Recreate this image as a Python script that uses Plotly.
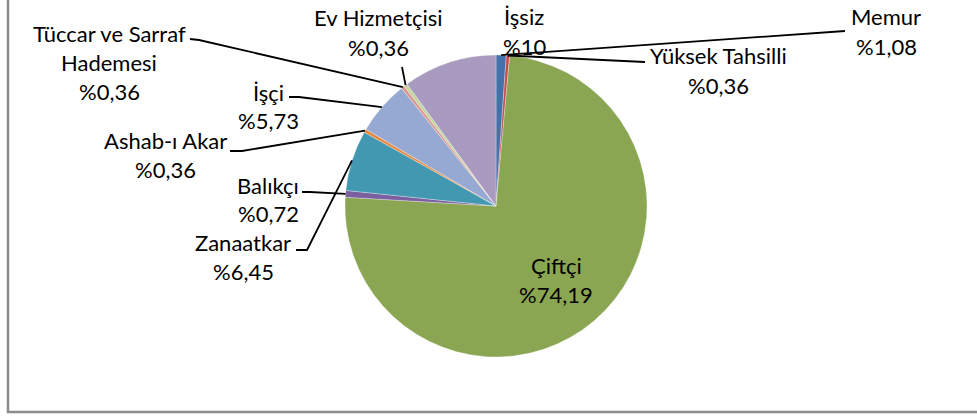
import math

import plotly.graph_objects as go

# data
labels = ["Memur", "Yüksek Tahsilli", "Çiftçi", "Balıkçı", "Zanaatkar",
          "Ashab-ı Akar", "İşçi", "Tüccar ve Sarraf Hademesi", "Ev Hizmetçisi", "İşsiz"]
values = [1.08, 0.36, 74.19, 0.72, 6.45, 0.36, 5.73, 0.36, 0.36, 10]
pct_text = ["%1,08", "%0,36", "%74,19", "%0,72", "%6,45", "%0,36", "%5,73", "%0,36", "%0,36", "%10"]
colors = ["#4472a8", "#c0504d", "#8ba653", "#7b5f9e", "#4298b0",
          "#e8883e", "#95a9d3", "#d99a97", "#c3d69b", "#a99bc0"]

W, H = 977, 416
PIE_CX, PIE_CY, PIE_R = 496, 206, 151
FONT = "Lato, 'Noto Sans', sans-serif"
FONT_SIZE = 22
LINE_GAP = 29

# label layout in pixels: name lines, centre x, first line y, leader points
label_layout = {
    "Memur": dict(lines=["Memur"], x=886, y=17, leader=[(845, 31)]),
    "Yüksek Tahsilli": dict(lines=["Yüksek Tahsilli"], x=718, y=56, leader=[(645, 62)]),
    "Çiftçi": dict(lines=["Çiftçi"], x=556, y=265, leader=None),
    "Balıkçı": dict(lines=["Balıkçı"], x=268, y=185, leader=[(302, 192), (310, 192)]),
    "Zanaatkar": dict(lines=["Zanaatkar"], x=243, y=242, leader=[(296, 250), (307, 250)]),
    "Ashab-ı Akar": dict(lines=["Ashab-ı Akar"], x=165, y=140, leader=[(230, 151), (242, 151)]),
    "İşçi": dict(lines=["İşçi"], x=268, y=92, leader=[(289, 97), (299, 97)]),
    "Tüccar ve Sarraf Hademesi": dict(lines=["Tüccar ve Sarraf", "Hademesi"], x=109, y=33,
                                      leader=[(190, 39), (199, 40)]),
    "Ev Hizmetçisi": dict(lines=["Ev Hizmetçisi"], x=378, y=18, leader=[(402, 67)]),
    "İşsiz": dict(lines=["İşsiz"], x=524, y=17, leader=None),
}


def px(x):
    return x / W


def py(y):
    return 1 - y / H


def slice_point(i):
    # mid-angle of slice i on the rim, clockwise from 12 o'clock
    total = sum(values)
    start = sum(values[:i]) / total * 360
    mid = math.radians(start + values[i] / total * 180)
    return PIE_CX + PIE_R * math.sin(mid), PIE_CY - PIE_R * math.cos(mid)


fig = go.Figure(go.Pie(
    labels=labels,
    values=values,
    sort=False,
    direction="clockwise",
    rotation=0,
    marker=dict(colors=colors, line=dict(color="rgba(255,255,255,0.5)", width=0.6)),
    textinfo="none",
    hoverinfo="label+percent",
    domain=dict(x=[px(PIE_CX - PIE_R), px(PIE_CX + PIE_R)],
                y=[py(PIE_CY + PIE_R), py(PIE_CY - PIE_R)]),
    showlegend=False,
))

annotations = []
shapes = []
for i, name in enumerate(labels):
    lay = label_layout[name]
    rows = lay["lines"] + [pct_text[i]]
    for k, row in enumerate(rows):
        annotations.append(dict(
            x=px(lay["x"]), y=py(lay["y"] + k * LINE_GAP), xref="paper", yref="paper",
            text=row, showarrow=False, xanchor="center", yanchor="middle",
            font=dict(family=FONT, size=FONT_SIZE, color="#000000"),
        ))
    if lay["leader"]:
        pts = lay["leader"] + [slice_point(i)]
        path = "M " + " L ".join(f"{px(x):.5f},{py(y):.5f}" for x, y in pts)
        shapes.append(dict(type="path", path=path, xref="paper", yref="paper",
                           line=dict(color="#000000", width=1.8)))

# chart frame (Excel chart area border, cropped on the right/top)
shapes.append(dict(type="rect", xref="paper", yref="paper",
                   x0=px(8), x1=1.02, y0=py(412), y1=1.02,
                   line=dict(color="#8c8c8c", width=2.5)))

fig.update_layout(
    width=W,
    height=H,
    margin=dict(l=0, r=0, t=0, b=0),
    paper_bgcolor="white",
    plot_bgcolor="white",
    annotations=annotations,
    shapes=shapes,
)

# drop the browser's default body margin so the figure sits at the page origin
fig.write_html("out.html", config={"displayModeBar": False},
               post_script="document.body.style.margin='0';")
